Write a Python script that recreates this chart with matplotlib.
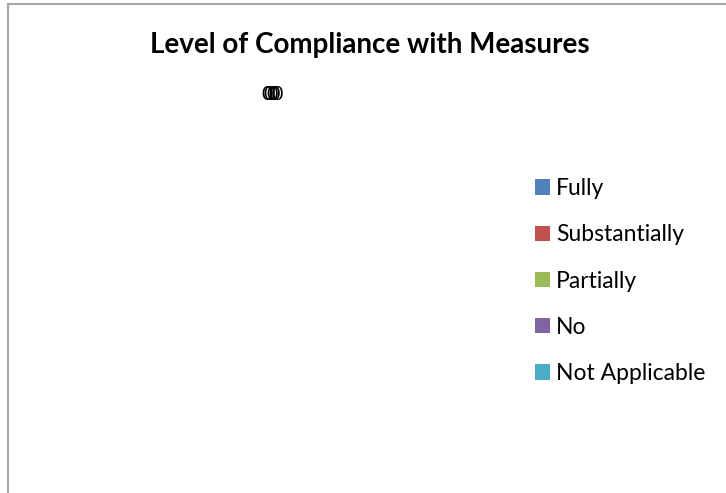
import matplotlib
matplotlib.use('Agg')
import matplotlib.pyplot as plt
from matplotlib.patches import Patch, Rectangle

# datos del grafico (todos los valores son cero)
categorias = ['Fully', 'Substantially', 'Partially', 'No', 'Not Applicable']
valores = [0, 0, 0, 0, 0]
colores = ['#4F81BD', '#C0504D', '#9BBB59', '#8064A2', '#4BACC6']
titulo = 'Level of Compliance with Measures'

plt.rcParams['font.family'] = ['Lato', 'DejaVu Sans']

fig = plt.figure(figsize=(7.26, 4.93), dpi=100)

# borde del area del grafico (recortado a la derecha y abajo)
fig.patches.append(Rectangle((8 / 726, -0.05), 1.1, 1 - 3.5 / 493 + 0.05,
                             transform=fig.transFigure, fill=False,
                             edgecolor='#A6A6A6', linewidth=1.5))

fig.text(370 / 726, 1 - 45 / 493, titulo, ha='center', va='center',
         fontsize=20, fontweight='bold')

# area del pastel: con suma cero no hay sectores, solo quedan las etiquetas
ax = fig.add_axes([97 / 726, 1 - 445 / 493, 350 / 726, 350 / 493])
ax.set_xlim(-1, 1)
ax.set_ylim(-1, 1)
ax.set_aspect('equal')
ax.axis('off')

n = len(valores)
for i, v in enumerate(valores):
    # etiquetas de sectores vacios quedan todas arriba del pastel
    ax.annotate(f'{v}', xy=(0, 1.0), xytext=((i - (n - 1) / 2) * 1.8, 0),
                textcoords='offset points', ha='center', va='center',
                fontsize=14, color='black')

handles = [Patch(facecolor=c, edgecolor='none') for c in colores]
fig.legend(handles, categorias, loc='upper left',
           bbox_to_anchor=(526 / 726, 1 - 169 / 493), frameon=False,
           fontsize=16.5, handlelength=0.65, handleheight=0.65,
           handletextpad=0.25, labelspacing=1.1, borderaxespad=0)

fig.savefig('out.png', dpi=100)
